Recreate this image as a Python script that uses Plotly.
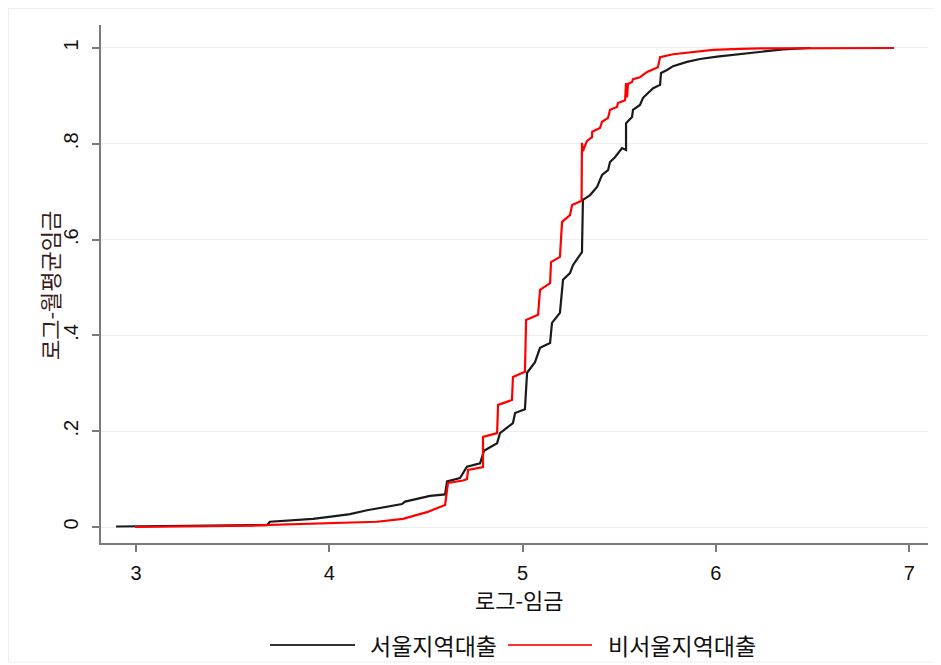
import plotly.graph_objects as go

# ---- data ----
seoul_x = [2.897, 3.678, 3.693, 3.916, 4.019, 4.107, 4.195, 4.262, 4.376, 4.392,
           4.521, 4.599, 4.609, 4.676, 4.712, 4.780, 4.800, 4.868, 4.883, 4.950,
           4.961, 5.012, 5.023, 5.064, 5.090, 5.142, 5.152, 5.193, 5.209, 5.245,
           5.261, 5.297, 5.307, 5.312, 5.349, 5.385, 5.411, 5.442, 5.452, 5.478,
           5.514, 5.535, 5.535, 5.566, 5.571, 5.607, 5.623, 5.649, 5.675, 5.711,
           5.716, 5.747, 5.778, 5.850, 5.918, 6.006, 6.125, 6.228, 6.347, 6.487]
seoul_y = [0.001, 0.004, 0.011, 0.017, 0.022, 0.027, 0.035, 0.040, 0.048, 0.053,
           0.065, 0.068, 0.095, 0.102, 0.126, 0.133, 0.159, 0.175, 0.196, 0.217,
           0.238, 0.246, 0.322, 0.344, 0.374, 0.384, 0.426, 0.447, 0.516, 0.530,
           0.547, 0.568, 0.574, 0.683, 0.693, 0.710, 0.735, 0.745, 0.762, 0.772,
           0.791, 0.787, 0.843, 0.856, 0.871, 0.881, 0.896, 0.906, 0.916, 0.923,
           0.948, 0.954, 0.962, 0.971, 0.977, 0.982, 0.987, 0.992, 0.997, 1.000]

nonseoul_x = [2.995, 3.590, 4.247, 4.381, 4.505, 4.599, 4.614, 4.692, 4.712, 4.718,
              4.795, 4.795, 4.868, 4.873, 4.945, 4.950, 5.012, 5.018, 5.080, 5.090,
              5.142, 5.147, 5.193, 5.204, 5.245, 5.256, 5.305, 5.307, 5.312, 5.333,
              5.359, 5.360, 5.400, 5.411, 5.442, 5.452, 5.488, 5.493, 5.530, 5.535,
              5.540, 5.545, 5.566, 5.571, 5.607, 5.644, 5.700, 5.711, 5.778, 5.882,
              5.985, 6.125, 6.228, 6.921]
nonseoul_y = [0.000, 0.003, 0.011, 0.017, 0.031, 0.046, 0.092, 0.097, 0.100, 0.119,
              0.125, 0.188, 0.196, 0.255, 0.265, 0.313, 0.324, 0.432, 0.443, 0.495,
              0.509, 0.553, 0.564, 0.637, 0.651, 0.672, 0.681, 0.802, 0.785, 0.806,
              0.814, 0.825, 0.833, 0.846, 0.854, 0.871, 0.877, 0.885, 0.891, 0.927,
              0.897, 0.925, 0.929, 0.935, 0.939, 0.950, 0.960, 0.981, 0.987, 0.992,
              0.996, 0.998, 0.999, 1.000]

series_names = ["서울지역대출", "비서울지역대출"]
x_ticks = [3, 4, 5, 6, 7]
y_ticks = [0, 0.2, 0.4, 0.6, 0.8, 1]
y_tick_labels = ["0", ".2", ".4", ".6", ".8", "1"]
x_title = "로그-임금"
y_title = "로그-월평균임금"

colors = ["#1a1a1a", "#ff0000"]
FONT = "Liberation Sans, Arial, Noto Sans CJK KR, sans-serif"
KFONT = "Noto Sans CJK KR, Liberation Sans, sans-serif"

fig = go.Figure()
fig.add_trace(go.Scatter(x=seoul_x, y=seoul_y, mode="lines", name=series_names[0],
                         line=dict(color=colors[0], width=2.2), showlegend=False))
fig.add_trace(go.Scatter(x=nonseoul_x, y=nonseoul_y, mode="lines", name=series_names[1],
                         line=dict(color=colors[1], width=2.2), showlegend=False))

# figure sits at an 8px page offset
OFF = 8
W, H = 933, 657
L, R, T, B = 93, 13, 17, 122
pw, ph = W - L - R, H - T - B

def px(xs):
    return (xs - OFF - L) / pw

def py(ys):
    return (H - B - (ys - OFF)) / ph

shapes = []
# faint frame around the graph region
shapes.append(dict(type="rect", xref="paper", yref="paper",
                   x0=px(8.5), x1=px(933.5), y0=py(662), y1=py(8.5),
                   line=dict(color="#eeeeee", width=1), layer="below"))
# manual legend
leg_y = py(645)
shapes.append(dict(type="line", xref="paper", yref="paper", x0=px(270), x1=px(355),
                   y0=leg_y, y1=leg_y, line=dict(color="#333333", width=2.2)))
shapes.append(dict(type="line", xref="paper", yref="paper", x0=px(508), x1=px(592),
                   y0=leg_y, y1=leg_y, line=dict(color="#ff3333", width=2.2)))
annotations = [
    dict(xref="paper", yref="paper", x=px(368), y=leg_y, text=series_names[0],
         showarrow=False, xanchor="left", yanchor="middle",
         font=dict(family=KFONT, size=23, color="#111111")),
    dict(xref="paper", yref="paper", x=px(606), y=leg_y, text=series_names[1],
         showarrow=False, xanchor="left", yanchor="middle",
         font=dict(family=KFONT, size=23, color="#111111")),
    # axis titles
    dict(xref="paper", yref="paper", x=px(519), y=py(599), text=x_title,
         showarrow=False, xanchor="center", yanchor="middle",
         font=dict(family=KFONT, size=22, color="#111111")),
    dict(xref="paper", yref="paper", x=px(49), y=py(286), text=y_title,
         showarrow=False, xanchor="center", yanchor="middle", textangle=-90,
         font=dict(family=KFONT, size=22, color="#3a1c1c")),
]

fig.update_layout(
    width=W, height=H,
    margin=dict(l=L, r=R, t=T, b=B, pad=0),
    paper_bgcolor="white", plot_bgcolor="white",
    showlegend=False,
    shapes=shapes, annotations=annotations,
    font=dict(family=FONT, color="#111111"),
)
fig.update_xaxes(
    range=[2.819, 7.097], tickvals=x_ticks, ticktext=[str(v) for v in x_ticks],
    showgrid=False, zeroline=False,
    showline=True, linecolor="#7a7a7a", linewidth=1.5,
    ticks="outside", ticklen=7, tickcolor="#7a7a7a", tickwidth=1.5,
    tickfont=dict(family=FONT, size=20, color="#111111"),
    ticklabelstandoff=4,
)
fig.update_yaxes(
    range=[-0.0334, 1.048], tickvals=y_ticks, ticktext=y_tick_labels,
    showgrid=True, gridcolor="#e8f0f2", gridwidth=1.2, zeroline=False,
    showline=True, linecolor="#7a7a7a", linewidth=1.5,
    ticks="outside", ticklen=7, tickcolor="#7a7a7a", tickwidth=1.5,
    tickangle=-90,
    tickfont=dict(family=FONT, size=20, color="#111111"),
    ticklabelstandoff=6,
)

fig.write_html("out.html")
